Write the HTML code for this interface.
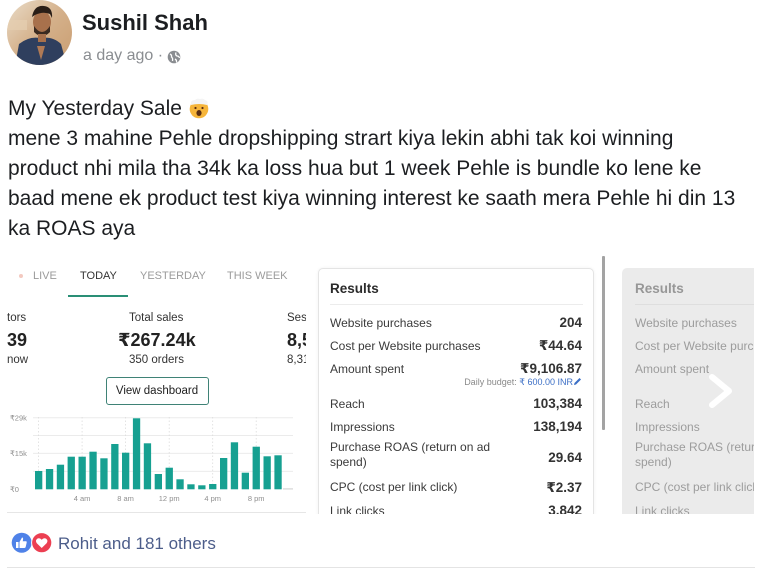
<!DOCTYPE html>
<html><head><meta charset="utf-8">
<style>
*{margin:0;padding:0;box-sizing:border-box}
html,body{width:762px;height:569px;background:#fff;overflow:hidden}
body{position:relative;font-family:"Liberation Sans","DejaVu Sans",sans-serif;color:#1c1e21}
.a{position:absolute;white-space:nowrap;line-height:1}
.shot{position:absolute;left:0;top:256px;width:762px;height:258px;overflow:hidden}
.lp{position:absolute;left:0;top:0;width:306px;height:258px;overflow:hidden}
.tab{font-size:11px;color:#9b9b9b;top:15px}
.st{font-size:11.5px;color:#333}
.card{position:absolute;left:318px;top:11.5px;width:276px;height:270px;border:1px solid #e4e4e4;border-radius:5px;box-shadow:0 0 3px rgba(0,0,0,.06);background:#fff}
.gcard{position:absolute;left:621.5px;top:11.5px;width:140px;height:270px;border-radius:5px;background:#ebebeb}
.lb{font-size:12px;color:#3a3a3a}
.vl{font-size:13.5px;font-weight:bold;color:#333;text-align:right}
.gl{font-size:12px;color:#9c9c9c}
</style></head><body>

<!-- avatar -->
<svg class="a" style="left:7px;top:0" width="66" height="66" viewBox="0 0 66 66">
<defs><clipPath id="c"><circle cx="32.5" cy="32.5" r="32.5"/></clipPath>
<linearGradient id="bg" x1="0" y1="0" x2="1" y2="1"><stop offset="0" stop-color="#eadcc8"/><stop offset=".5" stop-color="#d4b08a"/><stop offset="1" stop-color="#c99d70"/></linearGradient></defs>
<g clip-path="url(#c)">
<rect width="66" height="66" fill="url(#bg)"/>
<rect x="0" y="20" width="20" height="10" fill="#e6cfb0" opacity=".7"/>
<path d="M8 66 L12 44 Q22 36 33 38 Q46 36 54 44 L60 66Z" fill="#2f3f5e"/>
<ellipse cx="35" cy="22" rx="9" ry="11" fill="#a8714c"/>
<path d="M25 17 Q27 5 37 6 Q46 7 45 18 L43 14 Q36 11 28 15Z" fill="#2a1e17"/>
<path d="M27 26 Q35 38 43 26 L43 32 Q35 40 27 32Z" fill="#3a2a20"/>
<rect x="31" y="34" width="8" height="8" fill="#a8714c"/>
<path d="M30 46 L34 60 L38 46Z" fill="#b07a55"/>
</g></svg>

<div class="a" style="left:82px;top:12px;font-size:22px;font-weight:bold;color:#1c1e21">Sushil Shah</div>
<div class="a" style="left:83px;top:47.5px;font-size:16px;color:#8a8d91">a day ago ·</div>
<svg class="a" style="left:167px;top:50px" width="14" height="14" viewBox="0 0 14 14">
<circle cx="7" cy="7" r="6.3" fill="#8a8d91"/>
<path d="M3 4 Q5 5 4.5 7 Q6 8 5.5 11 M9 2.5 Q8 5 10 6 Q12 6 12.5 8 M8 9 Q10 10 9.5 12.5" stroke="#fff" stroke-width="1.3" fill="none"/>
</svg>

<!-- post text -->
<div class="a" style="left:8px;top:94.4px;font-size:21px;line-height:30px;color:#1c1e21">My Yesterday Sale <br>mene 3 mahine Pehle dropshipping strart kiya lekin abhi tak koi winning<br>product nhi mila tha 34k ka loss hua but 1 week Pehle is bundle ko lene ke<br>baad mene ek product test kiya winning interest ke saath mera Pehle hi din 13<br>ka ROAS aya</div>
<svg class="a" style="left:189px;top:98px" width="20" height="21" viewBox="0 0 20 21">
<circle cx="10" cy="11" r="9.3" fill="#f6b53a"/>
<path d="M2 7 Q1 2 6 2 Q8 0 11 1 Q14 0 16 2 Q20 3 18 7 Q10 5 2 7Z" fill="#f4f4f4"/>
<ellipse cx="10" cy="15" rx="2.6" ry="3" fill="#5a2d12"/>
<circle cx="6.5" cy="10" r="1.1" fill="#5a2d12"/><circle cx="13.5" cy="10" r="1.1" fill="#5a2d12"/>
</svg>

<!-- screenshot area -->
<div class="shot">
 <div class="lp">
  <div class="a" style="left:19px;top:18px;width:4px;height:4px;border-radius:2px;background:#f3c9c0"></div>
  <div class="a tab" style="left:33px">LIVE</div>
  <div class="a tab" style="left:80px;color:#333">TODAY</div>
  <div class="a" style="left:68px;top:38.5px;width:60px;height:2.5px;background:#2a8f76"></div>
  <div class="a tab" style="left:140px">YESTERDAY</div>
  <div class="a tab" style="left:227px">THIS WEEK</div>

  <div class="a st" style="left:7px;top:57px">tors</div>
  <div class="a st" style="left:129px;top:57px">Total sales</div>
  <div class="a st" style="left:287px;top:57px">Ses</div>
  <div class="a" style="left:7px;top:74.5px;font-size:18px;font-weight:bold;color:#222">39</div>
  <div class="a" style="left:118px;top:74.5px;font-size:18px;font-weight:bold;color:#222">₹267.24k</div>
  <div class="a" style="left:287px;top:74.5px;font-size:18px;font-weight:bold;color:#222">8,5</div>
  <div class="a st" style="left:7px;top:98.5px">now</div>
  <div class="a st" style="left:129px;top:98.5px">350 orders</div>
  <div class="a st" style="left:287px;top:98.5px">8,31</div>

  <div class="a" style="left:105.5px;top:120.5px;width:103px;height:28px;border:1.3px solid #3f8276;border-radius:3px;font-size:11.5px;color:#222;line-height:26px;text-align:center">View dashboard</div>

  <svg class="a" style="left:0;top:0" width="306" height="258" viewBox="0 256 306 258">
   <g stroke="#ebebeb" stroke-width="1">
    <line x1="33" y1="417.7" x2="293" y2="417.7"/>
    <line x1="33" y1="435.5" x2="293" y2="435.5"/>
    <line x1="33" y1="453.4" x2="293" y2="453.4"/>
    <line x1="33" y1="471.4" x2="293" y2="471.4"/>
   </g>
   <g stroke="#dcdcdc" stroke-width="0.8" stroke-dasharray="1.5 2">
    <line x1="38.6" y1="417" x2="38.6" y2="489"/>
    <line x1="82.1" y1="417" x2="82.1" y2="489"/>
    <line x1="125.6" y1="417" x2="125.6" y2="489"/>
    <line x1="169.2" y1="417" x2="169.2" y2="489"/>
    <line x1="212.7" y1="417" x2="212.7" y2="489"/>
    <line x1="256.2" y1="417" x2="256.2" y2="489"/>
   </g>
   <g fill="#16a091">
    <rect x="35.0" y="471.0" width="7.3" height="18.3"/>
    <rect x="45.9" y="469.0" width="7.3" height="20.3"/>
    <rect x="56.8" y="464.7" width="7.3" height="24.6"/>
    <rect x="67.6" y="456.7" width="7.3" height="32.6"/>
    <rect x="78.5" y="456.7" width="7.3" height="32.6"/>
    <rect x="89.4" y="451.7" width="7.3" height="37.6"/>
    <rect x="100.3" y="458.3" width="7.3" height="31.0"/>
    <rect x="111.2" y="444.0" width="7.3" height="45.3"/>
    <rect x="122.0" y="452.7" width="7.3" height="36.6"/>
    <rect x="132.9" y="418.3" width="7.3" height="71.0"/>
    <rect x="143.8" y="443.3" width="7.3" height="46.0"/>
    <rect x="154.7" y="474.0" width="7.3" height="15.3"/>
    <rect x="165.6" y="467.7" width="7.3" height="21.6"/>
    <rect x="176.4" y="479.3" width="7.3" height="10.0"/>
    <rect x="187.3" y="484.3" width="7.3" height="5.0"/>
    <rect x="198.2" y="485.3" width="7.3" height="4.0"/>
    <rect x="209.1" y="484.0" width="7.3" height="5.3"/>
    <rect x="220.0" y="458.0" width="7.3" height="31.3"/>
    <rect x="230.8" y="442.3" width="7.3" height="47.0"/>
    <rect x="241.7" y="472.7" width="7.3" height="16.6"/>
    <rect x="252.6" y="446.7" width="7.3" height="42.6"/>
    <rect x="263.5" y="456.3" width="7.3" height="33.0"/>
    <rect x="274.4" y="455.3" width="7.3" height="34.0"/>
   </g>
   <rect x="283" y="488.3" width="10" height="1.2" fill="#d5d5d5"/>
   <g font-family="Liberation Sans, DejaVu Sans, sans-serif" font-size="7.5" fill="#8f8f8f">
    <text x="10" y="420.5">₹29k</text>
    <text x="10" y="456.2">₹15k</text>
    <text x="10" y="492.2">₹0</text>
    <text x="82.1" y="501" text-anchor="middle">4 am</text>
    <text x="125.6" y="501" text-anchor="middle">8 am</text>
    <text x="169.2" y="501" text-anchor="middle">12 pm</text>
    <text x="212.7" y="501" text-anchor="middle">4 pm</text>
    <text x="256.2" y="501" text-anchor="middle">8 pm</text>
   </g>
  </svg>
 </div>

 <!-- results card -->
 <div class="card"></div>
 <div class="a" style="left:330px;top:25.5px;font-size:13.5px;font-weight:bold;color:#2b2b2b">Results</div>
 <div class="a" style="left:330px;top:48px;width:253px;height:1px;background:#ececec"></div>

 <div class="a lb" style="left:330px;top:60.5px">Website purchases</div>
 <div class="a vl" style="right:180px;top:60px">204</div>
 <div class="a lb" style="left:330px;top:83.5px">Cost per Website purchases</div>
 <div class="a vl" style="right:180px;top:83px">₹44.64</div>
 <div class="a lb" style="left:330px;top:106.5px">Amount spent</div>
 <div class="a vl" style="right:180px;top:106px">₹9,106.87</div>
 <div class="a" style="right:189px;top:121.5px;font-size:9px;color:#8a8a8a">Daily budget: <span style="color:#3c6fc6">₹ 600.00 INR</span></div>
 <svg class="a" style="left:573px;top:121px" width="9" height="9" viewBox="0 0 9 9"><path d="M1 8 L1.5 6 L6.5 1 L8 2.5 L3 7.5Z" fill="#3c6fc6"/></svg>
 <div class="a lb" style="left:330px;top:141.5px">Reach</div>
 <div class="a vl" style="right:180px;top:141px">103,384</div>
 <div class="a lb" style="left:330px;top:164.5px">Impressions</div>
 <div class="a vl" style="right:180px;top:164px">138,194</div>
 <div class="a lb" style="left:330px;top:187.5px;line-height:15.4px;margin-top:-4px">Purchase ROAS (return on ad<br>spend)</div>
 <div class="a vl" style="right:180px;top:195px">29.64</div>
 <div class="a lb" style="left:330px;top:225px">CPC (cost per link click)</div>
 <div class="a vl" style="right:180px;top:224.5px">₹2.37</div>
 <div class="a lb" style="left:330px;top:248.5px">Link clicks</div>
 <div class="a vl" style="right:180px;top:248px">3,842</div>

 <!-- scrollbar -->
 <div class="a" style="left:601.5px;top:0;width:3px;height:174px;background:#a3a3a3;border-radius:1px"></div>

 <!-- gray card -->
 <div class="gcard"></div>
 <div class="a" style="left:635px;top:25.5px;font-size:13.5px;font-weight:bold;color:#979797">Results</div>
 <div class="a" style="left:635px;top:48px;width:120px;height:1px;background:#dedede"></div>
 <div class="a gl" style="left:635px;top:60.5px">Website purchases</div>
 <div class="a gl" style="left:635px;top:83.5px">Cost per Website purchases</div>
 <div class="a gl" style="left:635px;top:106.5px">Amount spent</div>
 <div class="a gl" style="left:635px;top:141.5px">Reach</div>
 <div class="a gl" style="left:635px;top:164.5px">Impressions</div>
 <div class="a gl" style="left:635px;top:183.5px;line-height:15.4px">Purchase ROAS (return on ad<br>spend)</div>
 <div class="a gl" style="left:635px;top:225px">CPC (cost per link click)</div>
 <div class="a gl" style="left:635px;top:248.5px">Link clicks</div>
 <svg class="a" style="left:708px;top:118px" width="26" height="34" viewBox="0 0 26 34"><path d="M4 3 L21 17 L4 31" stroke="#fff" stroke-width="6" fill="none" stroke-linecap="round" stroke-linejoin="round"/></svg>
 <div class="a" style="left:754px;top:0;width:8px;height:258px;background:#fff"></div>
</div>

<div class="a" style="left:7px;top:512px;width:299px;height:1px;background:#e6e6e6"></div>

<!-- reactions -->
<svg class="a" style="left:10px;top:531px" width="44" height="24" viewBox="0 0 44 24">
<circle cx="11.7" cy="11.7" r="10" fill="#4f82e8"/>
<path d="M6 11 H8.5 V17 H6Z M9.5 11 L12 6.5 Q13.5 6.5 13 9 L12.7 10.3 H16 Q17 10.5 16.6 12 L15.6 16.3 Q15.2 17 14.4 17 H9.5Z" fill="#fff"/>
<circle cx="31.7" cy="11.7" r="10.6" fill="#fff"/>
<circle cx="31.7" cy="11.7" r="9.6" fill="#ec3f52"/>
<path d="M31.7 17 L26.8 12.2 Q25 9.8 27.2 7.8 Q29.6 6.3 31.7 8.8 Q33.8 6.3 36.2 7.8 Q38.4 9.8 36.6 12.2Z" fill="#fff"/>
</svg>
<div class="a" style="left:58px;top:535px;font-size:17px;color:#4c5d8a">Rohit and 181 others</div>
<div class="a" style="left:7px;top:567px;width:748px;height:1px;background:#e4e4e4"></div>

</body></html>
